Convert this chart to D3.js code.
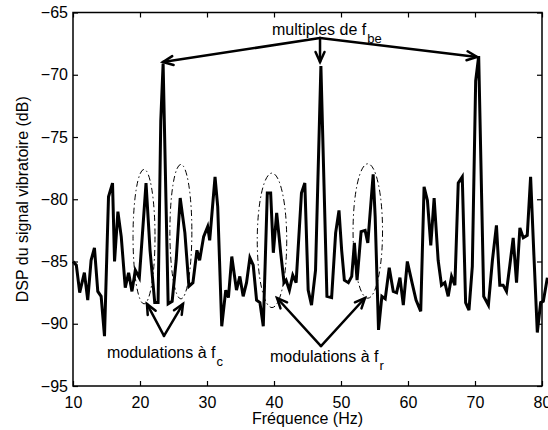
<!DOCTYPE html>
<html>
<head>
<meta charset="utf-8">
<script src="https://cdn.jsdelivr.net/npm/d3@7/dist/d3.min.js"></script>
<style>
body { margin: 0; background: #fff; }
svg { display: block; font-family: "Liberation Sans", Arial, sans-serif; }
</style>
</head>
<body>
<svg></svg>
<script>
// spectre (Hz, dB)
let freqs = [10.0, 10.5, 11.0, 11.7, 12.2, 12.7, 13.2, 13.7, 14.2, 14.7,
    15.3, 15.9, 16.2, 16.7, 17.2, 17.8, 18.3, 18.8, 19.3, 19.9,
    20.9, 21.5, 22.2, 22.7, 23.1, 23.45, 24.2, 24.8, 25.4, 26.0,
    26.7, 27.3, 27.9, 28.5, 28.9, 29.5, 30.1, 30.4, 31.2, 31.6,
    32.2, 32.8, 33.2, 33.7, 34.4, 34.9, 35.4, 35.9, 36.4, 36.9,
    37.4, 37.9, 38.4, 39.0, 39.5, 39.9, 40.4, 41.0, 41.5, 41.8,
    42.3, 42.8, 43.3, 44.1, 44.6, 45.1, 45.6, 46.2, 47.0, 47.9,
    48.6, 49.2, 49.7, 50.1, 50.5, 51.1, 51.6, 52.0, 52.4, 53.0,
    53.6, 54.0, 54.8, 55.1, 55.6, 56.1, 56.6, 57.2, 57.8, 58.3,
    58.8, 59.3, 59.9, 60.6, 61.2, 61.9, 62.4, 62.9, 63.4, 63.9,
    64.5, 65.0, 65.5, 66.0, 66.5, 67.0, 67.5, 68.1, 68.6, 69.1,
    69.6, 70.1, 70.55, 71.3, 72.0, 72.6, 73.2, 73.7, 74.2, 74.7,
    75.2, 75.7, 76.2, 76.7, 77.2, 77.8, 78.3, 78.8, 79.3, 79.8,
    80.2, 80.8]
let dsp = [-85.0, -85.3, -87.5, -85.9, -88.1, -84.9, -83.9, -87.4, -87.8, -91.0,
    -79.8, -78.7, -85.0, -81.0, -83.0, -87.1, -85.9, -87.4, -85.7, -86.3,
    -78.7, -84.1, -88.3, -88.3, -73.7, -69.1, -88.4, -88.2, -84.9, -79.9,
    -82.7, -87.0, -86.7, -84.1, -84.9, -83.0, -82.2, -83.3, -78.2, -80.6,
    -90.2, -87.3, -87.9, -84.6, -87.3, -86.2, -87.8, -86.7, -84.7, -85.3,
    -88.1, -88.3, -90.2, -79.5, -79.5, -84.3, -81.1, -84.3, -86.7, -86.5,
    -87.3, -86.1, -86.7, -79.5, -78.7, -87.3, -88.5, -85.7, -69.3, -87.8,
    -87.9, -82.7, -80.9, -84.1, -86.5, -86.7, -86.2, -83.5, -86.5, -82.6,
    -82.5, -83.5, -78.0, -81.4, -90.5, -87.8, -88.0, -85.5, -87.4, -87.5,
    -86.3, -88.5, -85.0, -86.7, -88.1, -89.0, -79.0, -80.1, -83.7, -79.9,
    -84.9, -86.9, -86.7, -87.8, -86.2, -86.9, -78.7, -78.2, -88.3, -88.9,
    -85.4, -70.5, -68.5, -87.8, -88.5, -84.9, -82.1, -86.9, -86.9, -87.4,
    -85.3, -83.1, -86.7, -82.3, -83.1, -82.9, -78.2, -84.6, -90.7, -88.3,
    -88.2, -86.3]

let xTicks = [10, 20, 30, 40, 50, 60, 70, 80]
let yTicks = [-95, -90, -85, -80, -75, -70, -65]

// annotations (Hz, dB)
let fbeApex = [46.87, -67.05]
let fbeTips = [[23.43, -68.98], [46.87, -68.98], [70.3, -68.57]]
let fcApex = [23.58, -90.98]
let fcTips = [[21.04, -88.41], [26.42, -88.41]]
let frApex = [47.01, -91.79]
let frTips = [[40.45, -87.93], [53.58, -87.93]]
let ellipses = [
    {f: 20.6, db: -83.0, rf: 1.64, rdb: 5.4},
    {f: 26.1, db: -82.6, rf: 1.64, rdb: 5.4},
    {f: 39.7, db: -83.3, rf: 2.2, rdb: 5.4},
    {f: 54.0, db: -82.55, rf: 2.2, rdb: 5.4}
]
let notes = [
    {text: 'multiples de f', sub: 'be', f: 39.7, db: -66.8},
    {text: 'modulations à f', sub: 'c', f: 15.07, db: -92.75},
    {text: 'modulations à f', sub: 'r', f: 39.4, db: -93.07}
]

let width = 548
let height = 430
let margin = {left: 73, right: 6, top: 12.5, bottom: 44}

let svg = d3.select('svg').attr('width', width).attr('height', height)

let xScale = d3.scaleLinear()
    .domain([10, 80])
    .range([margin.left, width - margin.right])
let yScale = d3.scaleLinear()
    .domain([-95, -65])
    .range([height - margin.bottom, margin.top])

let fmt = (d) => String(d).replace('-', '\u2212')

let drawAxes = () => {
    let x0 = margin.left, x1 = width - margin.right
    let y0 = height - margin.bottom, y1 = margin.top

    svg.append('g')
        .attr('transform', 'translate(0,' + y0 + ')')
        .call(d3.axisBottom(xScale).tickValues(xTicks).tickFormat(d3.format('d'))
            .tickSizeInner(-5).tickSizeOuter(0).tickPadding(11))
    svg.append('g')
        .attr('transform', 'translate(0,' + y1 + ')')
        .call(d3.axisTop(xScale).tickValues(xTicks).tickFormat('')
            .tickSizeInner(-5).tickSizeOuter(0))
    svg.append('g')
        .attr('transform', 'translate(' + x0 + ',0)')
        .call(d3.axisLeft(yScale).tickValues(yTicks).tickFormat(fmt)
            .tickSizeInner(-5).tickSizeOuter(0).tickPadding(5))
    svg.append('g')
        .attr('transform', 'translate(' + x1 + ',0)')
        .call(d3.axisRight(yScale).tickValues(yTicks).tickFormat('')
            .tickSizeInner(-5).tickSizeOuter(0))

    svg.selectAll('.domain').remove()
    svg.selectAll('.tick line').attr('stroke', '#000').attr('stroke-width', 1.2)
    svg.selectAll('.tick text')
        .attr('fill', '#000')
        .style('font-size', '16px')
        .style('font-family', '"Liberation Sans", Arial, sans-serif')

    svg.append('rect')
        .attr('x', x0).attr('y', y1)
        .attr('width', x1 - x0).attr('height', y0 - y1)
        .attr('fill', 'none').attr('stroke', '#000').attr('stroke-width', 1.5)

    svg.append('text')
        .attr('x', (x0 + x1) / 2).attr('y', 424)
        .attr('text-anchor', 'middle')
        .style('font-size', '16px')
        .text('Fréquence (Hz)')

    svg.append('text')
        .attr('transform', 'translate(28,' + (y0 + y1) / 2 + ') rotate(-90)')
        .attr('text-anchor', 'middle')
        .style('font-size', '16px')
        .text('DSP du signal vibratoire (dB)')
}

let drawSpectrum = () => {
    let points = freqs.map((f, i) => [f, dsp[i]])
    let line = d3.line()
        .x((d) => xScale(d[0]))
        .y((d) => yScale(d[1]))
    svg.append('path')
        .datum(points)
        .attr('d', line)
        .attr('fill', 'none')
        .attr('stroke', '#000')
        .attr('stroke-width', 3)
        .attr('stroke-linejoin', 'miter')
}

let drawArrow = (from, to) => {
    let ax = xScale(from[0]), ay = yScale(from[1])
    let bx = xScale(to[0]), by = yScale(to[1])
    let ang = Math.atan2(by - ay, bx - ax)
    let len = 11, spread = 0.42
    let g = svg.append('g')
        .attr('stroke', '#000').attr('stroke-width', 2.5)
        .attr('fill', 'none').attr('stroke-linecap', 'round')
    g.append('line')
        .attr('x1', ax).attr('y1', ay).attr('x2', bx).attr('y2', by)
    g.append('polyline')
        .attr('points', [
            [bx - len * Math.cos(ang - spread), by - len * Math.sin(ang - spread)],
            [bx, by],
            [bx - len * Math.cos(ang + spread), by - len * Math.sin(ang + spread)]
        ].map((p) => p.join(',')).join(' '))
}

let drawNotes = () => {
    ellipses.forEach((e) => {
        svg.append('ellipse')
            .attr('cx', xScale(e.f))
            .attr('cy', yScale(e.db))
            .attr('rx', xScale(e.f + e.rf) - xScale(e.f))
            .attr('ry', yScale(e.db - e.rdb) - yScale(e.db))
            .attr('fill', 'none')
            .attr('stroke', '#000')
            .attr('stroke-width', 1)
            .attr('stroke-dasharray', '6,3,1.5,3')
    })

    fbeTips.forEach((t) => drawArrow(fbeApex, t))
    fcTips.forEach((t) => drawArrow(fcApex, t))
    frTips.forEach((t) => drawArrow(frApex, t))

    notes.forEach((n) => {
        let t = svg.append('text')
            .attr('x', xScale(n.f))
            .attr('y', yScale(n.db))
            .style('font-size', '16px')
        t.append('tspan').text(n.text)
        t.append('tspan')
            .attr('dx', 1).attr('dy', 8)
            .style('font-size', '13px')
            .text(n.sub)
    })
}

drawAxes()
drawSpectrum()
drawNotes()
</script>
</body>
</html>
